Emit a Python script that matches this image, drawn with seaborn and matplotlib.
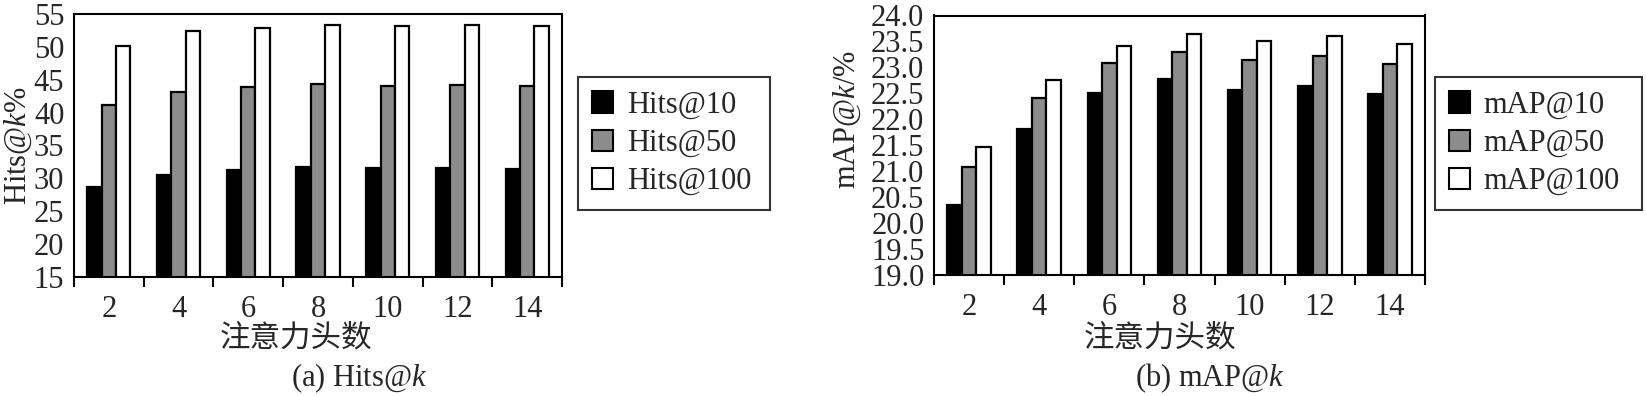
import numpy as np
import pandas as pd
import matplotlib
matplotlib.use("Agg")
import matplotlib.pyplot as plt
import seaborn as sns

heads = ["2", "4", "6", "8", "10", "12", "14"]

hits10 = [28.7, 30.5, 31.3, 31.8, 31.6, 31.6, 31.5]
hits50 = [41.2, 43.1, 43.9, 44.35, 44.05, 44.2, 44.0]
hits100 = [50.2, 52.4, 52.9, 53.4, 53.2, 53.4, 53.2]

map10 = [20.34, 21.82, 22.50, 22.78, 22.57, 22.64, 22.48]
map50 = [21.08, 22.42, 23.08, 23.30, 23.15, 23.22, 23.06]
map100 = [21.47, 22.75, 23.42, 23.64, 23.51, 23.60, 23.45]

hits_names = ["Hits@10", "Hits@50", "Hits@100"]
map_names = ["mAP@10", "mAP@50", "mAP@100"]

hits_ticks = [15, 20, 25, 30, 35, 40, 45, 50, 55]
map_ticks = [19.0, 19.5, 20.0, 20.5, 21.0, 21.5, 22.0, 22.5, 23.0, 23.5, 24.0]

colors = ["#000000", "#8c8c8c", "#ffffff"]

sns.set_theme(style="white")
plt.rcParams["font.family"] = ["Liberation Serif", "Noto Sans CJK SC"]
plt.rcParams["mathtext.fontset"] = "custom"
plt.rcParams["mathtext.it"] = "Liberation Serif:italic"
plt.rcParams["mathtext.rm"] = "Liberation Serif"

FS = 22
W, H = 1646, 396
fig = plt.figure(figsize=(W / 100, H / 100), dpi=100)


def frame(series, names):
    rows = []
    for name, vals in zip(names, series):
        for h, v in zip(heads, vals):
            rows.append({"heads": h, "series": name, "value": v})
    return pd.DataFrame(rows)


def panel(rect, series, names, ylim, yticks, fmt, ylabel, label_xy, leg_box):
    ax = fig.add_axes(rect)
    df = frame(series, names)
    sns.barplot(data=df, x="heads", y="value", hue="series", hue_order=names,
                order=heads, palette=colors, edgecolor="black", linewidth=1.6,
                width=0.62, gap=0, ax=ax, saturation=1, errorbar=None)
    ax.set_ylim(*ylim)
    ax.set_xlim(-0.5, len(heads) - 0.5)
    ax.set_yticks(yticks)
    ax.set_yticklabels([fmt.format(t) for t in yticks], fontsize=FS)
    ax.set_xticks(range(len(heads)))
    ax.set_xticklabels(heads, fontsize=FS)
    ax.set_xticks(np.arange(-0.5, len(heads)), minor=True)
    ax.tick_params(axis="x", which="major", length=0, pad=13)
    ax.tick_params(axis="x", which="minor", length=7, width=1.5, color="black",
                   direction="out", bottom=True)
    ax.tick_params(axis="y", length=0, pad=7)
    for s in ax.spines.values():
        s.set_visible(True)
        s.set_color("black")
        s.set_linewidth(1.5)
    ax.set_xlabel("")
    ax.set_ylabel(ylabel, fontsize=FS)
    ax.yaxis.set_label_coords(*label_xy)
    if ax.get_legend() is not None:
        ax.get_legend().remove()
    handles = [plt.Rectangle((0, 0), 1, 1, facecolor=c, edgecolor="black", linewidth=1.5)
               for c in colors]
    leg = ax.legend(handles, names, loc="upper left",
                    bbox_to_anchor=leg_box, bbox_transform=fig.transFigure,
                    mode="expand", borderaxespad=0,
                    fontsize=FS, frameon=True, fancybox=False,
                    handlelength=0.7, handleheight=0.7, handletextpad=0.45,
                    labelspacing=0.3, borderpad=0.45)
    leg.get_frame().set_edgecolor("black")
    leg.get_frame().set_linewidth(1.5)
    return ax


def fx(px):
    return px / W


def fy(px):
    return 1 - px / H


axL = panel([fx(74), fy(277), fx(562) - fx(74), fy(14) - fy(277)],
            [hits10, hits50, hits100], hits_names, (15, 55), hits_ticks, "{:d}",
            "Hits@$k$%", (-0.082, 0.5),
            (fx(578), fy(214), fx(770) - fx(578), fy(77) - fy(214)))
axR = panel([fx(934), fy(275), fx(1425) - fx(934), fy(15.5) - fy(275)],
            [map10, map50, map100], map_names, (19, 24), map_ticks, "{:.1f}",
            "mAP@$k$/%", (-0.145, 0.6),
            (fx(1435), fy(214), fx(1642) - fx(1435), fy(77) - fy(214)))

fig.text(fx(296), fy(338), "注意力头数", ha="center", va="center", fontsize=FS,
         family=["Noto Sans CJK SC"])
fig.text(fx(1160), fy(338), "注意力头数", ha="center", va="center", fontsize=FS,
         family=["Noto Sans CJK SC"])
fig.text(fx(359), fy(378), "(a) Hits@$k$", ha="center", va="center", fontsize=FS)
fig.text(fx(1210), fy(378), "(b) mAP@$k$", ha="center", va="center", fontsize=FS)

fig.savefig("out.png", dpi=100)
